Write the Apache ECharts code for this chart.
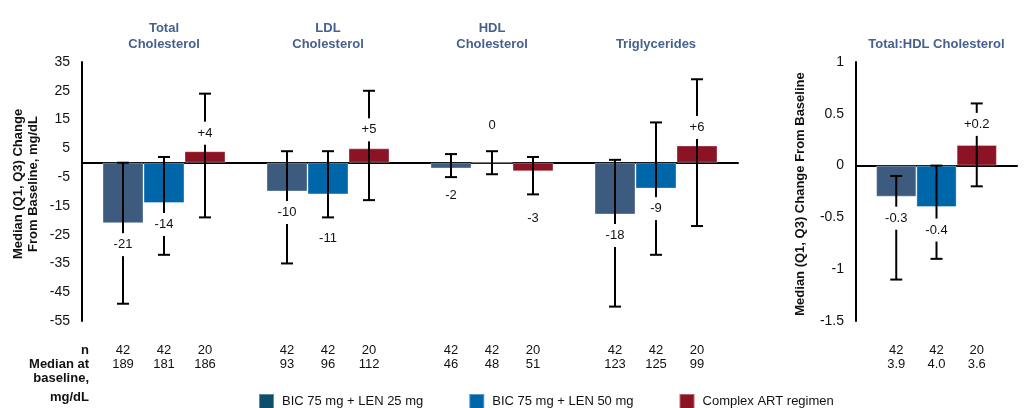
<!DOCTYPE html>
<html>
<head>
<meta charset="utf-8">
<script src="https://cdn.jsdelivr.net/npm/echarts@6/dist/echarts.min.js"></script>
<style>
  html, body { margin: 0; padding: 0; background: #fff; }
  #chart { width: 1029px; height: 408px; }
</style>
</head>
<body>
<div id="chart"></div>
<script>
// ---- data ----
const lipidCategories = ['Total\nCholesterol', 'LDL\nCholesterol', 'HDL\nCholesterol', 'Triglycerides'];
const ratioCategories = ['Total:HDL Cholesterol'];
const groupNames = ['BIC 75 mg + LEN 25 mg', 'BIC 75 mg + LEN 50 mg', 'Complex ART regimen'];

// median change from baseline (mg/dL) with Q1 / Q3
const bic25Median = [-21, -10, -2, -18];
const bic25Q1 = [-49, -35, -5, -50];
const bic25Q3 = [0, 4, 3, 1];
const bic50Median = [-14, -11, 0, -9];
const bic50Q1 = [-32, -19, -4, -32];
const bic50Q3 = [2, 4, 4, 14];
const artMedian = [4, 5, -3, 6];
const artQ1 = [-19, -13, -11, -22];
const artQ3 = [24, 25, 2, 29];

// table under the lipid panel
const bic25N = [42, 42, 42, 42];
const bic50N = [42, 42, 42, 42];
const artN = [20, 20, 20, 20];
const bic25Baseline = ['189', '93', '46', '123'];
const bic50Baseline = ['181', '96', '48', '125'];
const artBaseline = ['186', '112', '51', '99'];

// Total:HDL ratio panel
const ratioMedian = [[-0.3], [-0.4], [0.2]];
const ratioQ1 = [[-1.1], [-0.9], [-0.2]];
const ratioQ3 = [[-0.1], [0], [0.6]];
const ratioN = [[42], [42], [20]];
const ratioBaseline = [['3.9'], ['4.0'], ['3.6']];

// axis ranges
const lipidAxis = { min: -55, max: 35, step: 10 };
const ratioAxis = { min: -1.5, max: 1, step: 0.5 };

// ---- layout / style ----
const FONT = '"Liberation Sans", Arial, Helvetica, sans-serif';
const TEXT = '#111';
const TITLE = '#46618f';
const COLORS = ['#3d5a7f', '#0066aa', '#8b1323'];
const LEGEND_SWATCH = ['#0f4e6a', '#0066aa', '#8b1323'];
const CAT_GAP = 0.25;
const N_ROW_Y = 350;
const BASE_ROW_Y = 364;

// value-label distance from bar end (px, + is downward)
const lipidLabelShift = [
  [21.5, 21, 27, 21],
  [21.5, 44, -37, 20],
  [-18, -18.5, 47, -18]
];
const ratioLabelShift = [[21.5], [23], [-20.5]];

function signed(v, digits) {
  const s = digits ? v.toFixed(digits) : String(v);
  return v > 0 ? '+' + s : s;
}

function errorBarRenderer(pos, shifts, ns, bases, digits) {
  return function (params, api) {
    const i = params.dataIndex;
    const cat = api.value(0);
    const band = api.size([1, 0])[0];
    const bw = band * (1 - CAT_GAP) / 3;
    const x = api.coord([cat, 0])[0] + (pos - 1) * bw;
    const yLo = api.coord([cat, api.value(1)])[1];
    const yHi = api.coord([cat, api.value(2)])[1];
    const med = api.value(3);
    const yMed = api.coord([cat, med])[1];
    const ls = { stroke: '#000', lineWidth: 2 };
    const cap = 6;
    const txt = (t, y, extra) => Object.assign({
      text: t, x: x, y: y, align: 'center', verticalAlign: 'middle',
      fill: TEXT, fontSize: 13, fontFamily: FONT
    }, extra || {});
    return {
      type: 'group',
      children: [
        { type: 'line', shape: { x1: x, y1: yHi, x2: x, y2: yLo }, style: ls },
        { type: 'line', shape: { x1: x - cap, y1: yHi, x2: x + cap, y2: yHi }, style: ls },
        { type: 'line', shape: { x1: x - cap, y1: yLo, x2: x + cap, y2: yLo }, style: ls },
        { type: 'text', z2: 20, style: txt(signed(med, digits), yMed + shifts[i], { backgroundColor: '#fff', padding: [5, 2] }) },
        { type: 'text', z2: 20, style: txt(String(ns[i]), N_ROW_Y) },
        { type: 'text', z2: 20, style: txt(String(bases[i]), BASE_ROW_Y) }
      ]
    };
  };
}

const lipidSets = [
  [bic25Median, bic25Q1, bic25Q3, bic25N, bic25Baseline],
  [bic50Median, bic50Q1, bic50Q3, bic50N, bic50Baseline],
  [artMedian, artQ1, artQ3, artN, artBaseline]
];

const series = [];
lipidSets.forEach(function (set, s) {
  series.push({
    type: 'bar', name: groupNames[s], xAxisIndex: 0, yAxisIndex: 0,
    data: set[0], barGap: '0%', barCategoryGap: (CAT_GAP * 100) + '%',
    itemStyle: { color: COLORS[s], borderColor: 'rgba(255,255,255,0.35)', borderWidth: 1 },
    z: 2
  });
});
lipidSets.forEach(function (set, s) {
  series.push({
    type: 'custom', xAxisIndex: 0, yAxisIndex: 0, z: 5, clip: false,
    data: set[0].map(function (m, i) { return [i, set[1][i], set[2][i], m]; }),
    encode: { x: 0, y: [1, 2, 3] },
    renderItem: errorBarRenderer(s, lipidLabelShift[s], set[3], set[4], 0)
  });
});
for (let s = 0; s < 3; s++) {
  series.push({
    type: 'bar', name: groupNames[s], xAxisIndex: 2, yAxisIndex: 1,
    data: ratioMedian[s], barGap: '0%', barCategoryGap: (CAT_GAP * 100) + '%',
    itemStyle: { color: COLORS[s], borderColor: 'rgba(255,255,255,0.35)', borderWidth: 1 },
    z: 2
  });
}
for (let s = 0; s < 3; s++) {
  series.push({
    type: 'custom', xAxisIndex: 2, yAxisIndex: 1, z: 5, clip: false,
    data: ratioMedian[s].map(function (m, i) { return [i, ratioQ1[s][i], ratioQ3[s][i], m]; }),
    encode: { x: 0, y: [1, 2, 3] },
    renderItem: errorBarRenderer(s, ratioLabelShift[s], ratioN[s], ratioBaseline[s], 1)
  });
}

const baseX = {
  type: 'category', position: 'bottom',
  axisLine: { show: true, onZero: true, lineStyle: { color: '#000', width: 2 } },
  axisTick: { show: false }, axisLabel: { show: false }, splitLine: { show: false }
};
const titleX = {
  type: 'category', position: 'top',
  axisLine: { show: false, onZero: false }, axisTick: { show: false }, splitLine: { show: false },
  axisLabel: { interval: 0, color: TITLE, fontWeight: 'bold', fontSize: 13, fontFamily: FONT, lineHeight: 16, margin: 10 }
};
const baseY = {
  type: 'value',
  axisLine: { show: true, lineStyle: { color: '#000', width: 2 } },
  axisTick: { show: false }, splitLine: { show: false },
  axisLabel: { color: TEXT, fontSize: 14, fontFamily: FONT, margin: 12 }
};

const rowLabel = (t, y) => ({
  type: 'text', x: 89, y: y,
  style: { text: t, align: 'right', verticalAlign: 'middle', fill: TEXT, fontWeight: 'bold', fontSize: 13, fontFamily: FONT }
});

const chart = echarts.init(document.getElementById('chart'), null, { renderer: 'canvas' });
chart.setOption({
  animation: false,
  backgroundColor: '#fff',
  textStyle: { fontFamily: FONT },
  grid: [
    { left: 82, top: 62, width: 656, height: 259 },
    { left: 856, top: 62, width: 161, height: 259 }
  ],
  xAxis: [
    Object.assign({}, baseX, { gridIndex: 0, data: lipidCategories }),
    Object.assign({}, titleX, { gridIndex: 0, data: lipidCategories }),
    Object.assign({}, baseX, { gridIndex: 1, data: ratioCategories }),
    Object.assign({}, titleX, { gridIndex: 1, data: ratioCategories })
  ],
  yAxis: [
    Object.assign({}, baseY, { gridIndex: 0, min: lipidAxis.min, max: lipidAxis.max, interval: lipidAxis.step }),
    Object.assign({}, baseY, { gridIndex: 1, min: ratioAxis.min, max: ratioAxis.max, interval: ratioAxis.step })
  ],
  legend: {
    left: 258, top: 393, padding: 0, itemWidth: 15, itemHeight: 15, itemGap: 45, icon: 'rect',
    textStyle: { color: TEXT, fontSize: 13, fontFamily: FONT, padding: [0, 0, 0, 3] },
    data: groupNames.map(function (n, i) { return { name: n, itemStyle: { color: LEGEND_SWATCH[i] } }; })
  },
  graphic: [
    {
      type: 'text', x: 26, y: 184, rotation: Math.PI / 2,
      style: { text: 'Median (Q1, Q3) Change\nFrom Baseline, mg/dL', align: 'center', verticalAlign: 'middle',
        fill: TEXT, fontWeight: 'bold', fontSize: 13, fontFamily: FONT, lineHeight: 15 }
    },
    {
      type: 'text', x: 800, y: 194, rotation: Math.PI / 2,
      style: { text: 'Median (Q1, Q3) Change From Baseline', align: 'center', verticalAlign: 'middle',
        fill: TEXT, fontWeight: 'bold', fontSize: 13, fontFamily: FONT }
    },
    rowLabel('n', N_ROW_Y),
    rowLabel('Median at', BASE_ROW_Y),
    rowLabel('baseline,', 378),
    rowLabel('mg/dL', 397)
  ],
  series: series
});
</script>
</body>
</html>
